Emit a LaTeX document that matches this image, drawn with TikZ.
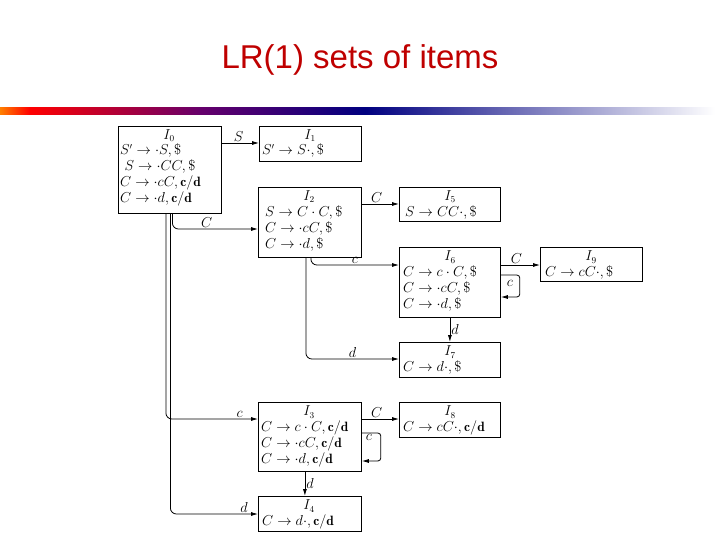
\documentclass[tikz,border=0pt]{standalone}
\usepackage{fontspec}
\newfontfamily\titlefont{Liberation Sans}
\usepackage{amsmath}
\usetikzlibrary{arrows.meta}
\begin{document}
\begin{tikzpicture}[x=1pt,y=-1pt,
  box/.style={draw,line width=0.8pt,minimum width=#1,inner sep=0pt,anchor=north west},
  txt/.style={anchor=north west,inner sep=0pt,font=\fontsize{13.5}{17}\selectfont,align=left},
  arr/.style={line width=0.8pt,-{Latex[length=7pt,width=4pt]},rounded corners=6pt},
  lab/.style={font=\fontsize{13.5}{15}\selectfont,inner sep=1pt}]
\useasboundingbox (0,0) rectangle (720,540);
\shade[left color=orange,right color=red] (0,108) rectangle (30,115);
\shade[left color=red,right color=black!30!blue!60!red] (30,108) rectangle (200,115);
\shade[left color=black!30!blue!60!red,right color=blue!50!black] (200,108) rectangle (365,115);
\shade[left color=blue!50!black,right color=white] (365,108) rectangle (715,115);
\node[font=\titlefont\fontsize{33}{36}\selectfont,text=red!75!black] (title) at (360,60) {LR(1) sets of items};
% boxes
\node[box=103,minimum height=87] (I0) at (118,126) {};
\node[box=102,minimum height=35] (I1) at (259,126) {};
\node[box=103,minimum height=70] (I2) at (258,187) {};
\node[box=101,minimum height=34] (I5) at (399,187) {};
\node[box=101,minimum height=70] (I6) at (399,247) {};
\node[box=102,minimum height=34] (I9) at (540,247) {};
\node[box=101,minimum height=35] (I7) at (399,342) {};
\node[box=103,minimum height=69] (I3) at (258,402) {};
\node[box=101,minimum height=35] (I8) at (399,402) {};
\node[box=103,minimum height=35] (I4) at (258,496) {};
% texts
\node[lab] (t0) at (169,136) {$I_0$};
\node[txt] (b0) at (120,144) {$S'\to\cdot S,\$$\\[-1pt]\ $S\to\cdot CC,\$$\\[-1pt]$C\to\cdot cC,\mathbf{c/d}$\\[-1pt]$C\to\cdot d,\mathbf{c/d}$};
\node[lab] (t1) at (310,136) {$I_1$};
\node[txt] (b1) at (262,144) {$S'\to S\cdot,\$$};
\node[lab] (t2) at (309,197) {$I_2$};
\node[txt] (b2) at (265,205) {$S\to C\cdot C,\$$\\[-1pt]$C\to\cdot cC,\$$\\[-1pt]$C\to\cdot d,\$$};
\node[lab] (t5) at (450,197) {$I_5$};
\node[txt] (b5) at (405,205) {$S\to CC\cdot,\$$};
\node[lab] (t6) at (450,257) {$I_6$};
\node[txt] (b6) at (403,265) {$C\to c\cdot C,\$$\\[-1pt]$C\to\cdot cC,\$$\\[-1pt]$C\to\cdot d,\$$};
\node[lab] (t9) at (591,257) {$I_9$};
\node[txt] (b9) at (545,265) {$C\to cC\cdot,\$$};
\node[lab] (t7) at (450,352) {$I_7$};
\node[txt] (b7) at (403,360) {$C\to d\cdot,\$$};
\node[lab] (t3) at (309,412) {$I_3$};
\node[txt] (b3) at (261,420) {$C\to c\cdot C,\mathbf{c/d}$\\[-1pt]$C\to\cdot cC,\mathbf{c/d}$\\[-1pt]$C\to\cdot d,\mathbf{c/d}$};
\node[lab] (t8) at (450,412) {$I_8$};
\node[txt] (b8) at (403,420) {$C\to cC\cdot,\mathbf{c/d}$};
\node[lab] (t4) at (309,506) {$I_4$};
\node[txt] (b4) at (262,514) {$C\to d\cdot,\mathbf{c/d}$};
% connectors
\draw[arr] ([yshift=-17]I0.north east) -- node[lab,above,pos=0.45]{$S$} ([yshift=-17]I1.north west);
\draw[arr] ([xshift=2.5]I0.south) |- node[lab,above,pos=0.7]{$C$} ([yshift=-42]I2.north west);
\draw[arr] ([xshift=-4]I0.south) |- node[lab,above,pos=0.9]{$c$} ([yshift=-17]I3.north west);
\draw[arr] ([xshift=0.5]I0.south) |- node[lab,above,pos=0.92]{$d$} ([yshift=-18]I4.north west);
\draw[arr] ([yshift=-17]I2.north east) -- node[lab,above,pos=0.4]{$C$} ([yshift=-17]I5.north west);
\draw[arr] ([xshift=1]I2.south) |- node[lab,above,pos=0.75]{$c$} ([yshift=-18]I6.north west);
\draw[arr] ([xshift=-4]I2.south) |- node[lab,above,pos=0.75]{$d$} ([yshift=-17]I7.north west);
\draw[arr] ([yshift=-18]I6.north east) -- node[lab,above,pos=0.4]{$C$} ([yshift=-18]I9.north west);
\draw[arr,rounded corners=3pt] ([yshift=-28]I6.north east) -- ++(19,0) -- ++(0,22) -- ([yshift=-50]I6.north east);
\node[lab] (c6) at (510,283) {$c$};
\draw[arr] (I6.south) -- node[lab,right,pos=0.5]{$d$} (I7.north);
\draw[arr] ([yshift=-17]I3.north east) -- node[lab,above,pos=0.4]{$C$} ([yshift=-17]I8.north west);
\draw[arr,rounded corners=3pt] ([yshift=-31]I3.north east) -- ++(19,0) -- ++(0,28) -- ([yshift=-59]I3.north east);
\node[lab] (c3) at (369,437) {$c$};
\draw[arr] ([xshift=-5]I3.south) -- node[lab,right]{$d$} ([xshift=-5]I4.north);
\end{tikzpicture}
\end{document}
